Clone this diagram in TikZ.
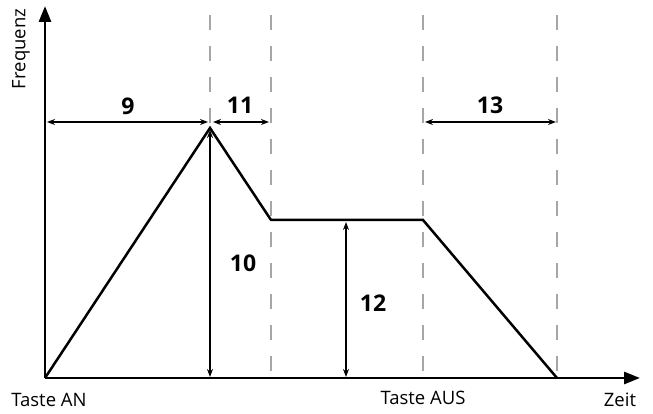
\documentclass[tikz,border=0pt]{standalone}
\usepackage{fontspec}
\setmainfont{Open Sans}
\usepackage{tikz}
\usetikzlibrary{arrows.meta, positioning, calc}

\begin{document}
\begin{tikzpicture}[
    x=1pt, y=1pt,
    axis/.style={line width=2.8pt, -{Triangle[length=16pt, width=12pt]}},
    curve/.style={line width=2.5pt, line join=miter},
    guide/.style={line width=1.4pt, gray!70, dash pattern=on 15pt off 16pt},
    dim/.style={{Stealth[length=8pt, width=6pt]}-{Stealth[length=8pt, width=6pt]}, line width=1.4pt},
    num/.style={font=\fontsize{23}{26}\selectfont\bfseries},
    lbl/.style={font=\fontsize{18.5}{21}\selectfont},
]
\useasboundingbox (0,0) rectangle (653,414);
% key points of the curve
\coordinate (origin) at (45,36);
\coordinate (ytop) at (45,408);
\coordinate (xend) at (640,36);
\coordinate (peak) at (210,286);
\coordinate (susA) at (271,194);
\coordinate (susB) at (423,194);
\coordinate (stop) at (557,36);
% guide lines
\foreach \gx in {210,271,423,557}
    \draw[guide] (\gx,399) -- (\gx,36);
% axes
\draw[axis] (origin) -- (ytop);
\draw[axis] (origin) -- (xend);
% envelope
\draw[curve] (origin) -- (peak) -- (susA) -- (susB) -- (stop);
% dimension arrows
\coordinate (attL) at (47,292);
\coordinate (attR) at (208,292);
\coordinate (decL) at (213,292);
\coordinate (decR) at (269,292);
\coordinate (relL) at (425,292);
\coordinate (relR) at (556,292);
\draw[dim] (attL) -- (attR);
\draw[dim] (decL) -- (decR);
\draw[dim] (relL) -- (relR);
\coordinate (peakfoot) at (210,37);
\coordinate (peakhead) at (210,284);
\draw[dim] (peakfoot) -- (peakhead);
\coordinate (susfoot) at (346,37);
\coordinate (sushead) at (346,192);
\draw[dim] (susfoot) -- (sushead);
% numbers
\node[num] (n9) at (128,308) {9};
\node[num] (n11) at (240,309) {11};
\node[num] (n13) at (490,309) {13};
\node[num] (n10) at (243,151) {10};
\node[num] (n12) at (373,111) {12};
% axis labels
\node[lbl, rotate=90] (freq) at (21,365) {Frequenz};
\node[lbl] (keyon) at (49,14) {Taste AN};
\node[lbl] (keyoff) at (423,16) {Taste AUS};
\node[lbl] (time) at (620,14) {Zeit};
\end{tikzpicture}
\end{document}
